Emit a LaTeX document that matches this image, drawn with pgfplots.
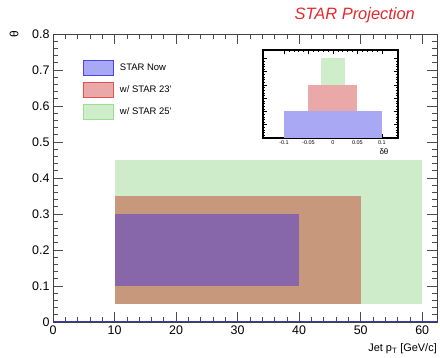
\documentclass[border=0pt]{standalone}
\usepackage{pgfplots}
\pgfplotsset{compat=1.18}
\usetikzlibrary{calc}
\usepackage{fontspec}
\setmainfont{Liberation Sans}
\definecolor{gfill}{RGB}{206,236,201}
\definecolor{bfill}{RGB}{200,152,124}
\definecolor{pfill}{RGB}{136,102,170}
\definecolor{legb}{RGB}{168,168,245}
\definecolor{legbb}{RGB}{70,70,235}
\definecolor{legr}{RGB}{234,168,168}
\definecolor{legrb}{RGB}{230,80,80}
\definecolor{legg}{RGB}{206,238,201}
\definecolor{leggb}{RGB}{160,220,152}
\definecolor{titred}{RGB}{228,40,44}
\begin{document}
\begin{tikzpicture}
\begin{axis}[name=main, scale only axis, width=384bp, height=288bp,
  xmin=0, xmax=62.4, ymin=0, ymax=0.8,
  xtick={0,10,20,30,40,50,60}, ytick={0,0.1,0.2,0.3,0.4,0.5,0.6,0.7,0.8},
  yticklabels={0,0.1,0.2,0.3,0.4,0.5,0.6,0.7,0.8},
  minor x tick num=4, minor y tick num=4,
  xtick pos=both, ytick pos=both, xticklabel pos=bottom, yticklabel pos=left,
  tick align=inside, major tick length=10bp, minor tick length=5bp,
  tick style={black!70, line width=0.6bp},
  axis line style={black!75, line width=0.8bp},
  tick label style={font=\fontsize{12.5}{12.5}\selectfont},
  /pgf/number format/assume math mode=true,
  clip=false,
  legend style={at={(rel axis cs:0.078,0.91)}, anchor=north west, draw=none, fill=none,
    font=\fontsize{9.5}{9.5}\selectfont, row sep=6bp, inner sep=0pt,
    /tikz/every odd column/.append style={column sep=4bp}},
  legend cell align=left,
]
\addplot[fill=gfill, draw=none, forget plot] coordinates {(10,0.05) (60,0.05) (60,0.45) (10,0.45)} -- cycle;
\addplot[fill=bfill, draw=none, forget plot] coordinates {(10,0.05) (50,0.05) (50,0.35) (10,0.35)} -- cycle;
\addplot[fill=pfill, draw=none, forget plot] coordinates {(10,0.1) (40,0.1) (40,0.3) (10,0.3)} -- cycle;
\addplot[color=legbb!80!black, line width=0.8bp, forget plot] coordinates {(0,0.001) (62.4,0.001)};
\addlegendimage{legend image code/.code={\draw[fill=legb, draw=legbb, line width=0.8bp] (0bp,-7.5bp) rectangle (30bp,7.5bp);}}
\addlegendentry{STAR Now}
\addlegendimage{legend image code/.code={\draw[fill=legr, draw=legrb, line width=0.8bp] (0bp,-7.5bp) rectangle (30bp,7.5bp);}}
\addlegendentry{w/ STAR 23'}
\addlegendimage{legend image code/.code={\draw[fill=legg, draw=leggb, line width=0.8bp] (0bp,-7.5bp) rectangle (30bp,7.5bp);}}
\addlegendentry{w/ STAR 25'}
\node[anchor=east, font=\fontsize{16.5}{16.5}\selectfont\itshape, text=titred, inner sep=0pt] at (rel axis cs:0.943,1.066) {STAR Projection};
\node[rotate=90, font=\fontsize{12}{12}\selectfont, inner sep=0pt] at (rel axis cs:-0.1016,1.0) {θ};
\node[anchor=east, font=\fontsize{11}{11}\selectfont, inner sep=0pt] at (rel axis cs:1.0,-0.094) {Jet p\textsubscript{T} [GeV/c]};
\end{axis}
\path[use as bounding box] ($(main.south west)+(-53bp,-36bp)$) rectangle ($(main.north east)+(3bp,34bp)$);
\begin{axis}[at={($(main.south west)+(210bp,184bp)$)}, anchor=south west,
  scale only axis, width=135bp, height=88bp,
  xmin=-0.143, xmax=0.133, ymin=0, ymax=3.32,
  xtick={-0.1,-0.05,0,0.05,0.1}, xticklabels={-0.1,-0.05,0,0.05,0.1},
  ytick={0,0.5,1,1.5,2,2.5,3}, yticklabels={},
  minor x tick num=4, minor y tick num=4,
  xtick pos=both, ytick pos=both, xticklabel pos=bottom,
  tick align=inside, major tick length=4bp, minor tick length=2bp,
  tick style={black, line width=0.5bp},
  axis line style={black, line width=1.2bp},
  axis background/.style={fill=white},
  tick label style={font=\fontsize{5.5}{5.5}\selectfont},
  xticklabel style={yshift=1bp},
  clip=false,
]
\addplot[fill=legb, draw=none] coordinates {(-0.1,0) (0.1,0) (0.1,1) (-0.1,1)} -- cycle;
\addplot[fill=legr, draw=none] coordinates {(-0.05,1) (0.05,1) (0.05,2) (-0.05,2)} -- cycle;
\addplot[fill=legg, draw=none] coordinates {(-0.025,2) (0.025,2) (0.025,3) (-0.025,3)} -- cycle;
\node[font=\fontsize{8}{8}\selectfont, inner sep=0pt] at (rel axis cs:0.896,-0.16) {δθ};
\end{axis}
\end{tikzpicture}
\end{document}
